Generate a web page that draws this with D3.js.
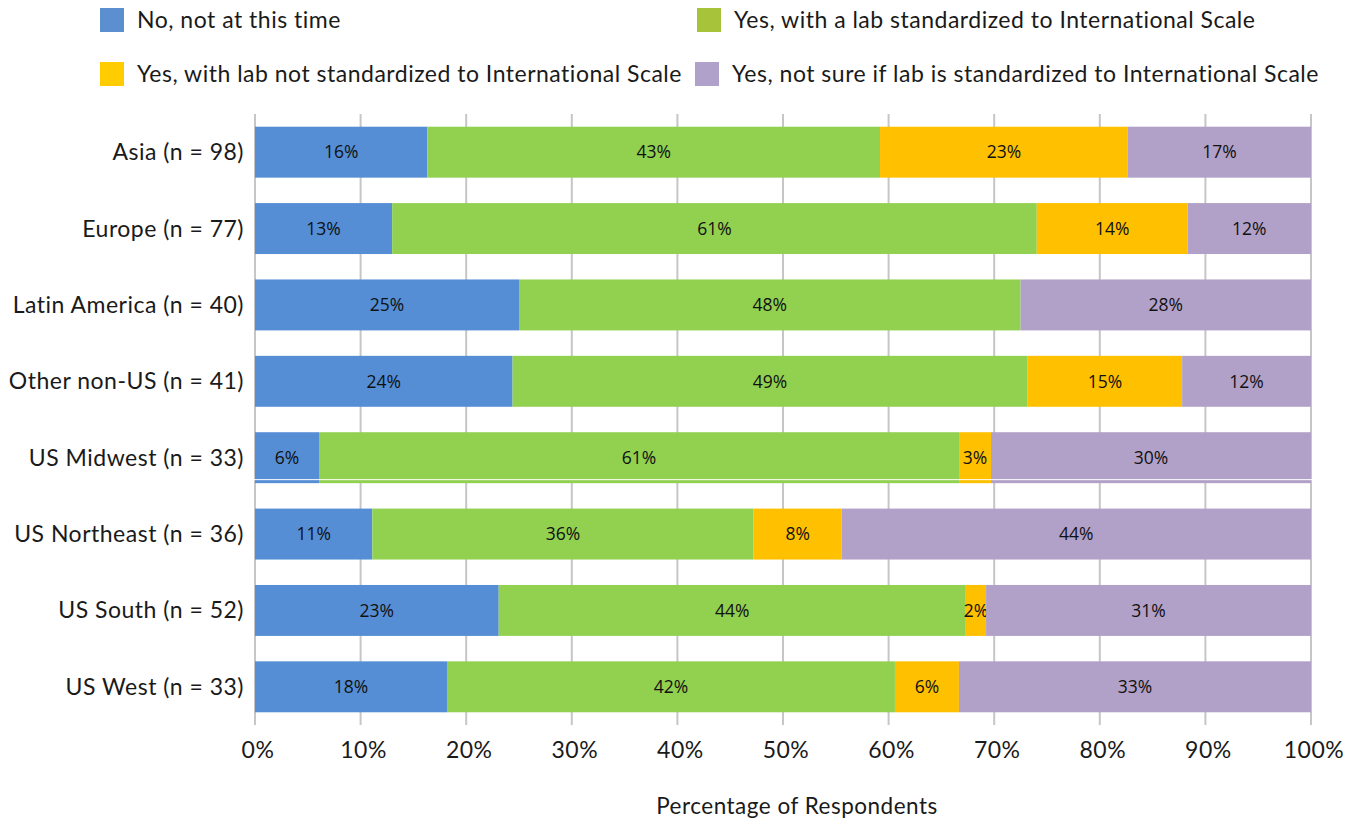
<!DOCTYPE html>
<html>
<head>
<meta charset="utf-8">
<script src="https://cdn.jsdelivr.net/npm/d3@7"></script>
<style>
  body { margin: 0; background: #fff; }
  text { fill: #1a1a1a; }
  .lbl { font-family: Lato, "Open Sans", sans-serif; letter-spacing: 0.5px; }
  .dat { font-family: "Open Sans", Lato, sans-serif; fill: #111; }
</style>
</head>
<body>
<svg id="chart" width="1364" height="823"></svg>
<script>
// regions, top to bottom
const regions = ['Asia (n = 98)', 'Europe (n = 77)', 'Latin America (n = 40)', 'Other non-US (n = 41)',
  'US Midwest (n = 33)', 'US Northeast (n = 36)', 'US South (n = 52)', 'US West (n = 33)'];

// percentage of respondents per answer
const noNotNow     = [16.33, 12.99, 25.0, 24.39, 6.06, 11.11, 23.08, 18.18];
const yesStdLab    = [42.86, 61.04, 47.5, 48.78, 60.61, 36.11, 44.23, 42.42];
const yesNonStdLab = [23.46, 14.29, 0, 14.63, 3.03, 8.33, 1.92, 6.06];
const yesNotSure   = [17.35, 11.68, 27.5, 12.2, 30.3, 44.45, 30.77, 33.34];

const seriesNames = ['No, not at this time', 'Yes, with a lab standardized to International Scale',
  'Yes, with lab not standardized to International Scale', 'Yes, not sure if lab is standardized to International Scale'];
const barColors = ['#558ED5', '#92D050', '#FFC000', '#B1A0C7'];
const legendColors = ['#5B8FCF', '#A6C339', '#FFCC00', '#B0A1CB'];
const xTicks = [0, 10, 20, 30, 40, 50, 60, 70, 80, 90, 100];

const svg = d3.select('#chart');
const margin = {left: 255, right: 53, top: 114, bottom: 98};
const W = 1364, H = 823;

const x = d3.scaleLinear().domain([0, 100]).range([margin.left, W - margin.right]);
const y = d3.scaleBand().domain(regions).range([margin.top, H - margin.bottom]).paddingInner(0.333).paddingOuter(0.1665);

const rows = regions.map((r, i) => ({region: r, s0: noNotNow[i], s1: yesStdLab[i], s2: yesNonStdLab[i], s3: yesNotSure[i]}));
const stack = d3.stack().keys(['s0', 's1', 's2', 's3'])(rows);

// gridlines
svg.append('g')
  .selectAll('line')
  .data(xTicks)
  .join('line')
    .attr('x1', d => x(d)).attr('x2', d => x(d))
    .attr('y1', margin.top).attr('y2', H - margin.bottom)
    .attr('stroke', '#c6c6c6')
    .attr('stroke-width', 2);

// bars
const layer = svg.append('g')
  .selectAll('g.layer')
  .data(stack)
  .join('g')
    .attr('class', 'layer')
    .attr('fill', (d, i) => barColors[i]);

layer.selectAll('rect')
  .data(d => d.filter(p => p[1] - p[0] > 0))
  .join('rect')
    .attr('x', d => x(d[0]))
    .attr('y', d => y(d.data.region))
    .attr('width', d => x(d[1]) - x(d[0]))
    .attr('height', y.bandwidth());

// thin white artifact line on the US Midwest bar
svg.append('line')
  .attr('x1', x(0) - 2).attr('x2', x(100) + 2)
  .attr('y1', y('US Midwest (n = 33)') + y.bandwidth() - 3.5)
  .attr('y2', y('US Midwest (n = 33)') + y.bandwidth() - 3.5)
  .attr('stroke', '#fff').attr('stroke-width', 1);

// data labels
layer.selectAll('text')
  .data(d => d.filter(p => p[1] - p[0] > 0))
  .join('text')
    .attr('class', 'dat')
    .attr('x', d => (x(d[0]) + x(d[1])) / 2)
    .attr('y', d => y(d.data.region) + y.bandwidth() / 2)
    .attr('dy', '0.36em')
    .attr('text-anchor', 'middle')
    .attr('font-size', 17.5)
    .text(d => Math.round(d[1] - d[0]) + '%');

// category labels
svg.append('g')
  .selectAll('text')
  .data(regions)
  .join('text')
    .attr('class', 'lbl')
    .attr('x', margin.left - 11)
    .attr('y', d => y(d) + y.bandwidth() / 2)
    .attr('dy', '0.35em')
    .attr('text-anchor', 'end')
    .attr('font-size', 23)
    .text(d => d);

// x tick labels
svg.append('g')
  .selectAll('text')
  .data(xTicks)
  .join('text')
    .attr('class', 'lbl')
    .attr('x', d => x(d) + 3)
    .attr('y', 750)
    .attr('dy', '0.35em')
    .attr('text-anchor', 'middle')
    .attr('font-size', 23)
    .text(d => d + '%');

// axis title
svg.append('text')
  .attr('class', 'lbl')
  .attr('x', 797).attr('y', 806)
  .attr('dy', '0.35em')
  .attr('text-anchor', 'middle')
  .attr('font-size', 22.5)
  .text('Percentage of Respondents');

// legend
const legendPos = [[100, 20], [697, 20], [100, 74], [695, 74]];
const lg = svg.append('g')
  .selectAll('g')
  .data(seriesNames)
  .join('g')
    .attr('transform', (d, i) => 'translate(' + legendPos[i][0] + ',' + legendPos[i][1] + ')');
lg.append('rect')
  .attr('x', 0).attr('y', -12)
  .attr('width', 24).attr('height', 24)
  .attr('fill', (d, i) => legendColors[i]);
lg.append('text')
  .attr('class', 'lbl')
  .attr('x', 37)
  .attr('dy', '0.35em')
  .attr('font-size', 23)
  .text(d => d);
</script>
</body>
</html>
